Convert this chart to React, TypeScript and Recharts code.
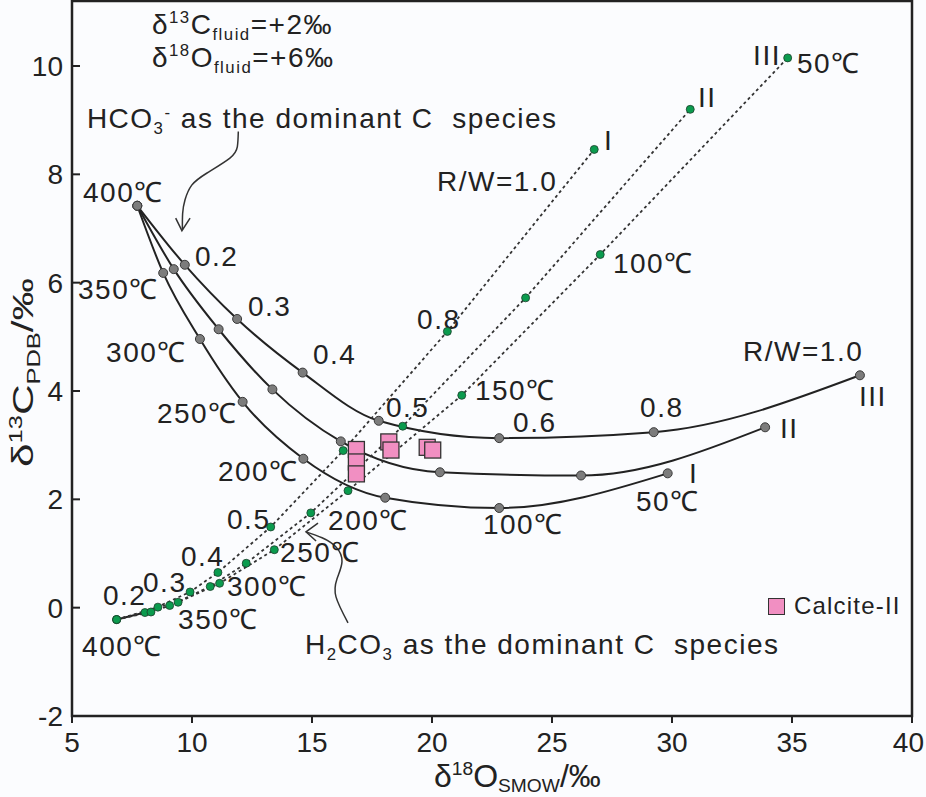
import React from 'react';
import { ComposedChart, Line, Scatter, XAxis, YAxis, ReferenceArea, Legend } from 'recharts';

const FONT = '"Liberation Sans", Arial, Helvetica, sans-serif';
const INK = '#222';
const GREEN = '#0b9b4e';
const GREY = '#7c7c7c';
const PINK = '#f18fc2';

const xTicks = [5, 10, 15, 20, 25, 30, 35, 40];
const yTicks = [-2, 0, 2, 4, 6, 8, 10];

// solid curves, HCO3- as the dominant species (I, II, III)
const hco3CurveI = [
  { x: 7.72, y: 7.42 }, { x: 8.8, y: 6.18 }, { x: 10.33, y: 4.96 }, { x: 12.11, y: 3.8 },
  { x: 14.64, y: 2.75 }, { x: 18.05, y: 2.03 }, { x: 22.8, y: 1.84 }, { x: 29.82, y: 2.48 },
];
const hco3CurveII = [
  { x: 7.72, y: 7.42 }, { x: 9.24, y: 6.25 }, { x: 11.11, y: 5.14 }, { x: 13.35, y: 4.03 },
  { x: 16.2, y: 3.07 }, { x: 20.33, y: 2.5 }, { x: 26.21, y: 2.44 }, { x: 33.88, y: 3.33 },
];
const hco3CurveIII = [
  { x: 7.72, y: 7.42 }, { x: 9.7, y: 6.33 }, { x: 11.88, y: 5.33 }, { x: 14.61, y: 4.34 },
  { x: 17.78, y: 3.45 }, { x: 22.8, y: 3.13 }, { x: 29.24, y: 3.24 }, { x: 37.83, y: 4.29 },
];

// dotted paths, H2CO3 as the dominant species (I, II, III)
const h2co3PathI = [
  { x: 6.86, y: -0.22 }, { x: 8.04, y: -0.09 }, { x: 9.92, y: 0.29 }, { x: 11.08, y: 0.65 },
  { x: 13.28, y: 1.49 }, { x: 16.3, y: 2.9 }, { x: 20.64, y: 5.1 }, { x: 26.76, y: 8.46 },
];
const h2co3PathII = [
  { x: 6.86, y: -0.22 }, { x: 8.29, y: -0.08 }, { x: 9.07, y: 0.04 }, { x: 10.76, y: 0.39 },
  { x: 12.26, y: 0.82 }, { x: 14.95, y: 1.75 }, { x: 18.78, y: 3.35 }, { x: 23.9, y: 5.72 },
  { x: 30.76, y: 9.2 },
];
const h2co3PathIII = [
  { x: 6.86, y: -0.22 }, { x: 8.58, y: 0.01 }, { x: 9.42, y: 0.1 }, { x: 11.15, y: 0.45 },
  { x: 13.43, y: 1.07 }, { x: 16.5, y: 2.16 }, { x: 21.24, y: 3.92 }, { x: 27.01, y: 6.52 },
  { x: 34.82, y: 10.15 },
];

const calciteII = [
  { x: 16.85, y: 2.92 }, { x: 16.85, y: 2.69 }, { x: 16.85, y: 2.47 },
  { x: 18.2, y: 3.06 }, { x: 18.29, y: 2.91 }, { x: 19.8, y: 2.96 }, { x: 20.03, y: 2.91 },
];

// pointer arrows
const hco3Arrow = [
  { x: 11.93, y: 8.79 }, { x: 11.89, y: 8.51 }, { x: 11.58, y: 8.3 }, { x: 10.61, y: 8.02 },
  { x: 9.99, y: 7.8 }, { x: 9.71, y: 7.53 }, { x: 9.61, y: 7.28 }, { x: 9.6, y: 6.98 },
];
const hco3ArrowHead = [{ x: 9.32, y: 7.19 }, { x: 9.58, y: 6.96 }, { x: 9.92, y: 7.19 }];
const h2co3Arrow = [
  { x: 16.5, y: -0.28 }, { x: 16.0, y: 0.2 }, { x: 16.04, y: 0.53 }, { x: 16.25, y: 0.85 },
  { x: 16.0, y: 1.12 }, { x: 15.42, y: 1.29 }, { x: 14.75, y: 1.4 },
];
const h2co3ArrowHead = [{ x: 15.25, y: 1.56 }, { x: 14.75, y: 1.4 }, { x: 15.17, y: 1.23 }];

// labels, anchored at the start of their baseline
const notes = [
  { x: 8.33, y: 10.6, t: 'δ^{13}C_{fluid}=+2‰' },
  { x: 8.33, y: 9.99, t: 'δ^{18}O_{fluid}=+6‰' },
  { x: 5.62, y: 8.85, t: 'HCO_{3}^{-} as the dominant C  species' },
  { x: 5.46, y: 7.49, t: '400℃' },
  { x: 10.12, y: 6.31, t: '0.2' },
  { x: 5.25, y: 5.69, t: '350℃' },
  { x: 12.33, y: 5.39, t: '0.3' },
  { x: 6.42, y: 4.53, t: '300℃' },
  { x: 15.04, y: 4.49, t: '0.4' },
  { x: 8.54, y: 3.41, t: '250℃' },
  { x: 11.08, y: 2.34, t: '200℃' },
  { x: 18.08, y: 3.52, t: '0.5' },
  { x: 23.38, y: 3.24, t: '0.6' },
  { x: 21.79, y: 3.84, t: '150℃' },
  { x: 28.67, y: 3.52, t: '0.8' },
  { x: 32.96, y: 4.55, t: 'R/W=1.0' },
  { x: 37.79, y: 3.72, t: 'III' },
  { x: 34.5, y: 3.13, t: 'II' },
  { x: 30.71, y: 2.31, t: 'I' },
  { x: 28.5, y: 1.78, t: '50℃' },
  { x: 22.12, y: 1.36, t: '100℃' },
  { x: 11.46, y: 1.45, t: '0.5' },
  { x: 15.67, y: 1.44, t: '200℃' },
  { x: 13.67, y: 0.85, t: '250℃' },
  { x: 9.54, y: 0.77, t: '0.4' },
  { x: 11.46, y: 0.22, t: '300℃' },
  { x: 7.96, y: 0.29, t: '0.3' },
  { x: 6.29, y: 0.05, t: '0.2' },
  { x: 9.42, y: -0.39, t: '350℃' },
  { x: 5.42, y: -0.9, t: '400℃' },
  { x: 14.71, y: -0.85, t: 'H_{2}CO_{3} as the dominant C  species' },
  { x: 20.21, y: 7.69, t: 'R/W=1.0' },
  { x: 27.17, y: 8.45, t: 'I' },
  { x: 31.08, y: 9.24, t: 'II' },
  { x: 33.38, y: 10.01, t: 'III' },
  { x: 35.21, y: 9.88, t: '50℃' },
  { x: 27.54, y: 6.18, t: '100℃' },
  { x: 19.38, y: 5.15, t: '0.8' },
];

// turns "a^{b}c_{d}" into tspans with raised / lowered runs
function rich(src: string, size: number, drop = 0.22) {
  const out: React.ReactNode[] = [];
  const re = /([_^])\{([^}]*)\}|([^_^]+)/g;
  let shift = 0;
  let m: RegExpExecArray | null;
  let i = 0;
  while ((m = re.exec(src))) {
    let target = 0;
    let fs = size;
    let txt = m[3];
    if (m[1]) {
      txt = m[2];
      fs = size * 0.6;
      target = m[1] === '^' ? -size * 0.38 : size * drop;
    }
    out.push(
      <tspan key={i++} dy={target - shift} fontSize={fs}>
        {txt}
      </tspan>
    );
    shift = target;
  }
  return out;
}

const NoteShape = (props: any) => {
  const { cx, cy, payload } = props;
  return (
    <text x={cx} y={cy} fontFamily={FONT} fontSize={28} letterSpacing={1.5} fill={INK} style={{ whiteSpace: 'pre' }}>
      {rich(payload.t, 28)}
    </text>
  );
};

const SquareShape = (props: any) => {
  const { cx, cy } = props;
  return <rect x={cx - 8} y={cy - 8} width={16} height={16} fill={PINK} stroke="#333" strokeWidth={1.3} />;
};

const XTick = ({ x, y, payload }: any) => {
  const last = payload.value === xTicks[xTicks.length - 1];
  return (
    <g>
      <line x1={x} y1={y} x2={x} y2={y + 7} stroke={INK} strokeWidth={2} />
      <text
        x={last ? x + 12 : x}
        y={y + 36}
        textAnchor={last ? 'end' : 'middle'}
        fontFamily={FONT}
        fontSize={28}
        fill={INK}
      >
        {payload.value}
      </text>
    </g>
  );
};

const YTick = ({ x, y, payload }: any) => (
  <g>
    <line x1={x} y1={y} x2={x + 8} y2={y} stroke={INK} strokeWidth={2} />
    <text x={x - 9} y={y + 10} textAnchor="end" fontFamily={FONT} fontSize={28} fill={INK}>
      {payload.value}
    </text>
  </g>
);

const XTitle = (p: any) => {
  const vb = p.viewBox || { x: 72, y: 716 };
  return (
    <text x={vb.x + 362} y={vb.y + 71} fontFamily={FONT} fontSize={32} fill={INK}>
      {rich('δ^{18}O_{SMOW}/‰', 32, 0.16)}
    </text>
  );
};

const YTitle = (p: any) => {
  const vb = p.viewBox || { x: 0, y: 1 };
  const x = vb.x + 33;
  const y = vb.y + 466;
  return (
    <text
      x={x}
      y={y}
      transform={`rotate(-90 ${x} ${y})`}
      fontFamily={FONT}
      fontSize={30}
      fill={INK}
      textLength={189}
      lengthAdjust="spacingAndGlyphs"
    >
      {rich('δ^{13}C_{PDB}/‰', 30)}
    </text>
  );
};

const LegendBox = () => (
  <div style={{ display: 'flex', alignItems: 'center', fontFamily: FONT, fontSize: 24, letterSpacing: 1.2, color: INK }}>
    <span style={{ display: 'inline-block', width: 15, height: 15, background: PINK, border: '1.3px solid #333', marginRight: 9 }} />
    Calcite-II
  </div>
);

const greenDot = { r: 4, fill: GREEN, stroke: '#1d3f2c', strokeWidth: 0.8, strokeDasharray: 'none' };
const greyDot = { r: 4.5, fill: GREY, stroke: '#3a3a3a', strokeWidth: 1 };

export default function App() {
  return (
    <div style={{ width: 926, height: 797, background: '#fbfcfe' }}>
      <style>{'body{margin:0}'}</style>
      <ComposedChart width={926} height={797} margin={{ top: 1, right: 14, bottom: 0, left: 0 }}>
        <XAxis
          type="number"
          dataKey="x"
          domain={[5, 40]}
          ticks={xTicks}
          interval={0}
          height={81}
          tickSize={0}
          tickMargin={0}
          axisLine={false}
          tick={<XTick />}
          label={XTitle}
        />
        <YAxis
          type="number"
          dataKey="y"
          domain={[-2, 11.2]}
          ticks={yTicks}
          interval={0}
          width={72}
          tickSize={0}
          tickMargin={0}
          axisLine={false}
          tick={<YTick />}
          label={YTitle}
        />
        <ReferenceArea x1={5} x2={40} y1={-2} y2={11.2} fill="none" stroke={INK} strokeWidth={2.5} ifOverflow="visible" />

        <Line data={hco3CurveI} dataKey="y" type="monotone" stroke={INK} strokeWidth={2} dot={greyDot} activeDot={false} isAnimationActive={false} />
        <Line data={hco3CurveII} dataKey="y" type="monotone" stroke={INK} strokeWidth={2} dot={greyDot} activeDot={false} isAnimationActive={false} />
        <Line data={hco3CurveIII} dataKey="y" type="monotone" stroke={INK} strokeWidth={2} dot={greyDot} activeDot={false} isAnimationActive={false} />

        <Line data={h2co3PathI.slice(0, 2)} dataKey="y" type="linear" stroke={INK} strokeWidth={2} dot={false} activeDot={false} isAnimationActive={false} />
        <Line data={h2co3PathI} dataKey="y" type="linear" stroke="#333" strokeWidth={1.8} strokeDasharray="3 3" dot={greenDot} activeDot={false} isAnimationActive={false} />
        <Line data={h2co3PathII} dataKey="y" type="linear" stroke="#333" strokeWidth={1.8} strokeDasharray="3 3" dot={greenDot} activeDot={false} isAnimationActive={false} />
        <Line data={h2co3PathIII} dataKey="y" type="linear" stroke="#333" strokeWidth={1.8} strokeDasharray="3 3" dot={greenDot} activeDot={false} isAnimationActive={false} />

        <Line data={hco3Arrow} dataKey="y" type="natural" stroke="#333" strokeWidth={1.5} dot={false} activeDot={false} isAnimationActive={false} />
        <Line data={hco3ArrowHead} dataKey="y" type="linear" stroke="#333" strokeWidth={1.5} dot={false} activeDot={false} isAnimationActive={false} />
        <Line data={h2co3Arrow} dataKey="y" type="natural" stroke="#333" strokeWidth={1.5} dot={false} activeDot={false} isAnimationActive={false} />
        <Line data={h2co3ArrowHead} dataKey="y" type="linear" stroke="#333" strokeWidth={1.5} dot={false} activeDot={false} isAnimationActive={false} />

        <Scatter name="Calcite-II" data={calciteII} shape={SquareShape} isAnimationActive={false} />
        <Scatter data={notes} shape={NoteShape} isAnimationActive={false} />

        <Legend
          layout="horizontal"
          verticalAlign="middle"
          align="center"
          wrapperStyle={{ left: 768, top: 592, width: 150, height: 28 }}
          content={LegendBox}
        />
      </ComposedChart>
    </div>
  );
}
